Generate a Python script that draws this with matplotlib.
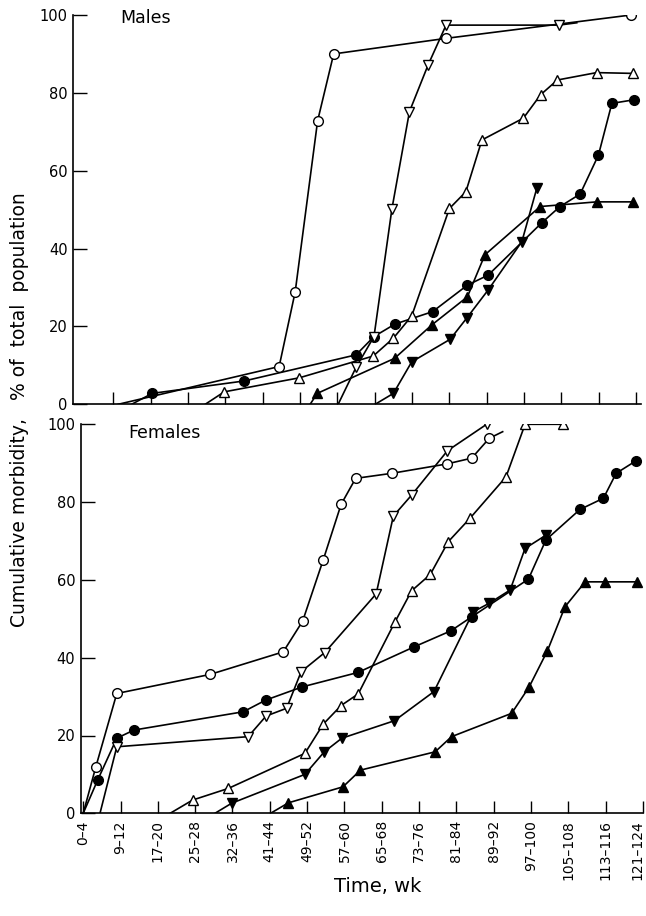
import matplotlib
matplotlib.use("Agg")
import matplotlib.pyplot as plt
from matplotlib.transforms import ScaledTranslation

W, H, DPI = 646, 916, 100

# ---------------- data ----------------
week_labels = ["0–4", "9–12", "17–20", "25–28", "32–36", "41–44", "49–52",
               "57–60", "65–68", "73–76", "81–84", "89–92", "97–100",
               "105–108", "113–116", "121–124"]
y_ticks = [0, 20, 40, 60, 80, 100]

# Males (x in week-class index units, y = cumulative % )
m_ocirc_x = [1.13, 5.44, 5.87, 6.47, 6.90, 9.91, 14.86]
m_ocirc_y = [0, 9.7, 28.9, 72.8, 90.0, 94.0, 100.0]
m_fcirc_x = [1.49, 2.04, 4.51, 7.50, 7.98, 8.54, 9.55, 10.48, 11.04, 12.47, 12.96, 13.50, 13.99, 14.35, 14.93]
m_fcirc_y = [0, 2.8, 6.0, 12.7, 17.4, 20.6, 23.8, 30.6, 33.2, 46.6, 50.8, 54.0, 64.0, 77.3, 78.2]
m_odown_x = [7.02, 7.50, 7.98, 8.46, 8.93, 9.43, 9.91, 12.93, 13.41]
m_odown_y = [0, 9.5, 17.4, 50.2, 75.2, 87.2, 97.4, 97.4, 98.0]
m_oup_x = [3.46, 3.97, 5.98, 7.96, 8.50, 8.99, 10.00, 10.44, 10.87, 11.98, 12.44, 12.89, 13.94, 14.91]
m_oup_y = [0, 3.2, 6.8, 12.4, 17.0, 22.7, 50.3, 54.6, 67.9, 73.5, 79.5, 83.3, 85.2, 85.0]
m_fup_x = [6.27, 6.46, 8.53, 9.53, 10.48, 10.95, 12.43, 13.94, 14.92]
m_fup_y = [0, 2.8, 11.8, 20.4, 27.6, 38.4, 50.8, 52.0, 52.0]
m_fdown_x = [8.01, 8.50, 8.99, 10.02, 10.46, 11.04, 11.94, 12.34]
m_fdown_y = [0, 2.8, 10.9, 16.7, 22.1, 29.4, 41.8, 55.5]

# Females
f_ocirc_x = [0.0, 0.34, 0.90, 3.40, 5.36, 5.88, 6.43, 6.91, 7.30, 8.27, 9.74, 10.41, 10.88, 11.24]
f_ocirc_y = [0, 12.0, 30.8, 35.7, 41.5, 49.4, 65.1, 79.4, 86.1, 87.4, 89.8, 91.3, 96.4, 98.1]
f_fcirc_x = [0.0, 0.39, 0.90, 1.36, 4.29, 4.89, 5.87, 7.36, 8.87, 9.85, 10.41, 11.93, 12.40, 13.31, 13.94, 14.28, 14.81]
f_fcirc_y = [0, 8.6, 19.3, 21.4, 26.1, 29.1, 32.5, 36.2, 42.8, 46.9, 50.5, 60.2, 70.3, 78.1, 81.0, 87.4, 90.6]
f_odown_x = [0.45, 0.90, 4.42, 4.90, 5.45, 5.84, 6.47, 7.85, 8.31, 8.80, 9.76, 10.81]
f_odown_y = [0, 17.1, 19.7, 25.0, 27.0, 36.4, 41.3, 56.4, 76.4, 81.8, 93.2, 100.0]
f_oup_x = [2.33, 2.93, 3.89, 5.94, 6.43, 6.91, 7.37, 8.36, 8.80, 9.30, 9.78, 10.36, 11.33, 11.84, 12.85]
f_oup_y = [0, 3.4, 6.4, 15.4, 22.9, 27.7, 30.7, 49.3, 57.2, 61.4, 69.8, 75.8, 86.5, 100.0, 100.0]
f_fdown_x = [3.53, 3.98, 5.94, 6.46, 6.93, 8.34, 9.40, 10.45, 10.88, 11.44, 11.84, 12.40]
f_fdown_y = [0, 2.6, 10.0, 15.8, 19.3, 23.8, 31.3, 51.8, 54.0, 57.4, 68.1, 71.5]
f_fup_x = [5.02, 5.50, 6.96, 7.43, 9.43, 9.87, 11.48, 11.95, 12.44, 12.91, 13.45, 13.98, 14.83]
f_fup_y = [0, 2.7, 6.8, 11.1, 15.8, 19.7, 25.7, 32.5, 41.8, 53.1, 59.5, 59.5, 59.5]

# (x, y, marker, filled, first point unmarked, last point unmarked)
males = [
    (m_ocirc_x, m_ocirc_y, "o", False, True, False),
    (m_fcirc_x, m_fcirc_y, "o", True, True, False),
    (m_odown_x, m_odown_y, "v", False, True, True),
    (m_oup_x, m_oup_y, "^", False, True, False),
    (m_fup_x, m_fup_y, "^", True, True, False),
    (m_fdown_x, m_fdown_y, "v", True, True, False),
]
females = [
    (f_ocirc_x, f_ocirc_y, "o", False, True, True),
    (f_fcirc_x, f_fcirc_y, "o", True, True, False),
    (f_odown_x, f_odown_y, "v", False, True, False),
    (f_oup_x, f_oup_y, "^", False, True, False),
    (f_fdown_x, f_fdown_y, "v", True, True, False),
    (f_fup_x, f_fup_y, "^", True, True, False),
]

plt.rcParams["font.family"] = ["DejaVu Sans"]
fig = plt.figure(figsize=(W / DPI, H / DPI), dpi=DPI)


def px_axes(left, right, top, bottom):
    return fig.add_axes([left / W, 1 - bottom / H, (right - left) / W, (bottom - top) / H])


ax_m = px_axes(73, 641, 15, 404.3)
ax_f = px_axes(80.7, 643, 424.3, 813.3)


def draw(ax, series):
    for x, y, mk, filled, s0, s1 in series:
        ax.plot(x, y, color="black", lw=1.2, zorder=2)
        a = 1 if s0 else 0
        b = len(x) - 1 if s1 else len(x)
        ax.plot(x[a:b], y[a:b], ls="none", marker=mk, ms=7.0,
                mfc="black" if filled else "white", mec="black", mew=1.0, zorder=3)


draw(ax_m, males)
draw(ax_f, females)

for ax, x0, x1 in ((ax_m, -0.08, 15.13), (ax_f, -0.067, 15.0)):
    ax.set_xlim(x0, x1)
    ax.set_ylim(0, 100)
    for s in ("top", "right"):
        ax.spines[s].set_visible(False)
    for s in ("left", "bottom"):
        ax.spines[s].set_linewidth(1.2)
    ax.set_yticks(y_ticks)
    ax.set_yticklabels([str(v) for v in y_ticks], fontsize=10.5)
    ax.tick_params(axis="y", direction="in", length=10, width=1.0, pad=4)
    ax.tick_params(axis="x", direction="in", length=9, width=1.0)

ax_m.set_xticks(list(range(1, len(week_labels))))
ax_m.set_xticklabels([])
ax_f.set_xticks(list(range(len(week_labels))))
ax_f.set_xticklabels(week_labels, rotation=90, fontsize=10)
ax_f.tick_params(axis="x", pad=5)
last = ax_f.get_xticklabels()[-1]
last.set_transform(last.get_transform() + ScaledTranslation(-4 / 72, 0, fig.dpi_scale_trans))

fig.text(120 / W, 1 - 18 / H, "Males", fontsize=12.5, ha="left", va="center")
fig.text(128 / W, 1 - 433 / H, "Females", fontsize=12.5, ha="left", va="center")
fig.text(20 / W, 1 - 410 / H, "Cumulative morbidity,   % of  total  population",
         rotation=90, fontsize=13.5, ha="center", va="center")
fig.text(378 / W, 1 - 886 / H, "Time, wk", fontsize=14, ha="center", va="center")

fig.savefig("out.png", dpi=DPI)
